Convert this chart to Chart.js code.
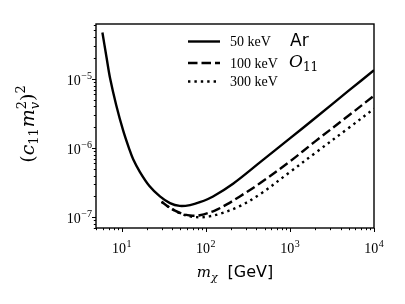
<!DOCTYPE html>
<html>
<head>
<meta charset="utf-8">
<script src="https://cdn.jsdelivr.net/npm/chart.js@4.4.1/dist/chart.umd.min.js"></script>
<style>
  html, body { margin: 0; padding: 0; background: #fff; }
</style>
</head>
<body>
<canvas id="chart" width="405" height="304"></canvas>
<script>
// dark matter mass [GeV] and limits on (c11 m_v^2)^2
const mass50 = [5.9, 6.6, 7.3, 8.6, 10.4, 12.2, 13.7, 16.5, 21.5, 28.5, 37.5, 49, 65, 85, 122, 211, 440, 1000, 2000, 5000, 10000];
const limit50 = [4.67e-5, 2.05e-5, 1.0e-5, 4.2e-6, 1.8e-6, 1.0e-6, 6.9e-7, 4.5e-7, 2.8e-7, 2.0e-7, 1.6e-7, 1.46e-7, 1.5e-7, 1.65e-7, 2.0e-7, 3.05e-7, 6.2e-7, 1.38e-6, 2.72e-6, 6.75e-6, 1.33e-5];

const mass100 = [29.8, 36, 43, 53, 65, 85, 128, 180, 254, 440, 1000, 2000, 5000, 10000];
const limit100 = [1.68e-7, 1.42e-7, 1.25e-7, 1.12e-7, 1.06e-7, 1.07e-7, 1.25e-7, 1.55e-7, 2.0e-7, 3.1e-7, 6.4e-7, 1.25e-6, 2.95e-6, 5.7e-6];

const mass300 = [29.8, 36, 43, 53, 65, 85, 110, 150, 254, 440, 1000, 2000, 5000, 10000];
const limit300 = [1.68e-7, 1.41e-7, 1.24e-7, 1.1e-7, 1.03e-7, 1.0e-7, 1.03e-7, 1.13e-7, 1.45e-7, 2.15e-7, 4.5e-7, 8.5e-7, 1.95e-6, 3.7e-6];

const seriesLabels = ["50 keV", "100 keV", "300 keV"];
const xTickExps = [1, 2, 3, 4];
const yTickExps = [-7, -6, -5];
const xMin = 4.95, xMax = 1e4;
const yMin = 7.0e-8, yMax = 6.2e-5;

const SERIF = "'Liberation Serif', serif";
const MATH = "'DejaVu Serif', serif";
const SANS = "'DejaVu Sans', sans-serif";

function pts(xs, ys) {
    return xs.map((x, i) => ({ x: x, y: ys[i] }));
}

function drawPow(ctx, exp, x, y, align) {
    const sup = exp < 0 ? "\u2212" + (-exp) : String(exp);
    ctx.font = "14px " + SERIF;
    const wb = ctx.measureText("10").width;
    ctx.font = "10px " + SERIF;
    const ws = ctx.measureText(sup).width;
    const w = wb + ws + 0.5;
    const x0 = align === "right" ? x - w : x - w / 2;
    ctx.textAlign = "left";
    ctx.font = "14px " + SERIF;
    ctx.fillText("10", x0, y);
    ctx.font = "10px " + SERIF;
    ctx.fillText(sup, x0 + wb + 0.5, y - 6);
}

// draws a run of text pieces, returns width; if dry, only measures
function richText(ctx, parts, x, y, dry) {
    let cx = x;
    for (const p of parts) {
        if (p.stack) {
            ctx.font = p.fsup;
            const w1 = ctx.measureText(p.sup).width;
            ctx.font = p.fsub;
            const w2 = ctx.measureText(p.sub).width;
            if (!dry) {
                ctx.font = p.fsup;
                ctx.fillText(p.sup, cx, y + p.up);
                ctx.font = p.fsub;
                ctx.fillText(p.sub, cx, y + p.down);
            }
            cx += Math.max(w1, w2) + (p.gap || 0);
        } else {
            ctx.font = p.f;
            if (!dry) ctx.fillText(p.t, cx, y + (p.dy || 0));
            cx += ctx.measureText(p.t).width + (p.gap || 0);
        }
    }
    return cx - x;
}

const axesPlugin = {
    id: "mplAxes",
    afterDraw(chart) {
        const { ctx, chartArea: a } = chart;
        const xs = chart.scales.x, ys = chart.scales.y;
        ctx.save();
        ctx.strokeStyle = "#000";
        ctx.fillStyle = "#000";
        ctx.lineWidth = 1;

        // minor + major ticks
        ctx.beginPath();
        for (let e = 0; e <= 4; e++) {
            for (let k = 1; k <= 9; k++) {
                const v = k * Math.pow(10, e);
                if (v < xMin || v > xMax * 1.0001) continue;
                const px = Math.round(xs.getPixelForValue(v)) + 0.5;
                const len = k === 1 ? 4 : 2.2;
                ctx.moveTo(px, a.bottom);
                ctx.lineTo(px, a.bottom + len);
            }
        }
        for (let e = -8; e <= -4; e++) {
            for (let k = 1; k <= 9; k++) {
                const v = k * Math.pow(10, e);
                if (v < yMin || v > yMax) continue;
                const py = Math.round(ys.getPixelForValue(v)) + 0.5;
                const len = k === 1 ? 4 : 2.2;
                ctx.moveTo(a.left, py);
                ctx.lineTo(a.left - len, py);
            }
        }
        ctx.stroke();

        // frame
        ctx.lineWidth = 1.4;
        ctx.strokeRect(a.left, a.top, a.right - a.left, a.bottom - a.top);

        // tick labels
        ctx.textBaseline = "alphabetic";
        xTickExps.forEach(e => {
            drawPow(ctx, e, xs.getPixelForValue(Math.pow(10, e)), a.bottom + 25, "center");
        });
        yTickExps.forEach(e => {
            drawPow(ctx, e, a.left - 4, ys.getPixelForValue(Math.pow(10, e)) + 6, "right");
        });

        // x axis title: m_chi  [GeV]
        const xParts = [
            { t: "m", f: "italic 15px " + MATH },
            { t: "\u03c7", f: "italic 11px " + MATH, dy: 4, gap: 10 },
            { t: "[GeV]", f: "16px " + SANS }
        ];
        const xw = richText(ctx, xParts, 0, 0, true);
        richText(ctx, xParts, (a.left + a.right) / 2 - xw / 2, 277, false);

        // y axis title: (c_11 m_v^2)^2, rotated
        const yParts = [
            { t: "(", f: "19px " + MATH },
            { t: "c", f: "italic 19px " + MATH },
            { t: "11", f: "13px " + MATH, dy: 4, gap: 1 },
            { t: "m", f: "italic 19px " + MATH },
            { stack: true, sup: "2", sub: "v", fsup: "13px " + MATH, fsub: "italic 13px " + MATH, up: -8, down: 5 },
            { t: ")", f: "19px " + MATH },
            { t: "2", f: "13px " + MATH, dy: -9 }
        ];
        const yw = richText(ctx, yParts, 0, 0, true);
        ctx.save();
        ctx.translate(34, (a.top + a.bottom) / 2 - 2);
        ctx.rotate(-Math.PI / 2);
        richText(ctx, yParts, -yw / 2, 0, false);
        ctx.restore();

        // legend
        const rows = [41.5, 63, 81.5];
        chart.data.datasets.forEach((ds, i) => {
            ctx.save();
            ctx.lineWidth = ds.borderWidth;
            ctx.setLineDash(ds.borderDash || []);
            ctx.lineCap = "butt";
            ctx.beginPath();
            ctx.moveTo(188, rows[i]);
            ctx.lineTo(220, rows[i]);
            ctx.stroke();
            ctx.restore();
            ctx.font = "14px " + SERIF;
            ctx.textAlign = "left";
            ctx.fillText(ds.label, 230, rows[i] + 4.5);
        });
        ctx.font = "17px " + SANS;
        ctx.fillText("Ar", 290, 46);
        richText(ctx, [
            { t: "O", f: "italic 17px " + MATH },
            { t: "11", f: "12px " + MATH, dy: 4 }
        ], 289, 67, false);

        ctx.restore();
    }
};

new Chart(document.getElementById("chart"), {
    type: "line",
    data: {
        datasets: [
            { label: seriesLabels[0], data: pts(mass50, limit50), borderColor: "#000", borderWidth: 2.4 },
            { label: seriesLabels[1], data: pts(mass100, limit100), borderColor: "#000", borderWidth: 2.4, borderDash: [9.5, 4] },
            { label: seriesLabels[2], data: pts(mass300, limit300), borderColor: "#000", borderWidth: 2.4, borderDash: [2.4, 4], borderCapStyle: "butt" }
        ]
    },
    options: {
        responsive: false,
        animation: false,
        devicePixelRatio: 1,
        layout: { padding: { left: 96, right: 31, top: 24, bottom: 76 } },
        elements: {
            point: { radius: 0 },
            line: { fill: false, tension: 0.35 }
        },
        scales: {
            x: { type: "logarithmic", min: xMin, max: xMax, display: false },
            y: { type: "logarithmic", min: yMin, max: yMax, display: false }
        },
        plugins: {
            legend: { display: false },
            tooltip: { enabled: false }
        }
    },
    plugins: [axesPlugin]
});
</script>
</body>
</html>
